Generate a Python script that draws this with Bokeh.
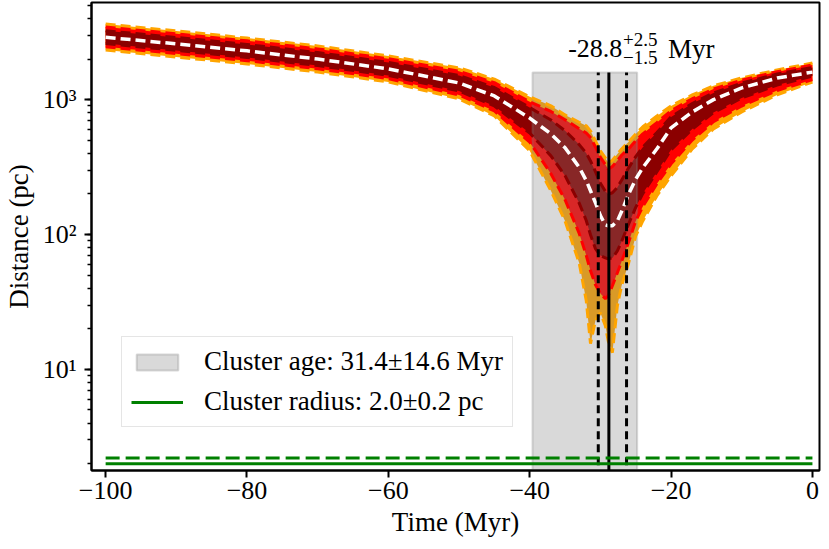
from bokeh.plotting import figure
from bokeh.models import (Range1d, Label, Legend, LegendItem, CustomJSTickFormatter,
                          FixedTicker)
from bokeh.embed import file_html
from bokeh.resources import INLINE

# ---------------- data ----------------
t = [-100, -90, -80, -70, -60, -50, -45, -40, -37, -35, -33, -32, -31.4, -30.7, -30,
     -29.3, -28.9, -28.3, -27.6, -27, -26, -25, -24, -22, -20, -17, -14, -10, -5, 0]
median = [2900, 2590, 2300, 2000, 1690, 1330, 1065, 730, 557, 440, 315, 251, 211, 172, 138,
          118, 116, 116, 126, 148, 200, 257, 313, 432, 618, 810, 1000, 1222, 1445, 1600]
outer_hi = [3640, 3230, 2860, 2500, 2110, 1720, 1420, 1050, 900, 770, 680, 640, 586, 495, 417,
            370, 340, 355, 395, 430, 488, 557, 630, 757, 898, 1085, 1265, 1450, 1660, 1870]
outer_lo = [2335, 2070, 1837, 1603, 1352, 1012, 757, 417, 211, 126, 61.6, 32.3, 15.5, 23, 26.3,
            21.1, 16.3, 13.3, 29.6, 41.7, 61.6, 97.7, 126, 194, 272, 431, 607, 811, 1084, 1352]
mid_hi = [3451, 3076, 2729, 2377, 2010, 1622, 1336, 966, 817, 710, 609, 566, 524, 446, 373,
          330, 305, 319, 353, 387, 433, 496, 558, 676, 828, 1016, 1199, 1394, 1610, 1807]
mid_lo = [2466, 2193, 1946, 1693, 1432, 1084, 824, 484, 282, 181, 102, 70, 53.8, 42.4, 36.5,
          33.4, 35.2, 41.7, 52, 63, 88, 126, 161, 238, 334, 502, 687, 897, 1168, 1406]
inner_hi = [3243, 2890, 2565, 2232, 1888, 1510, 1230, 873, 707, 588, 464, 401, 351, 292, 240,
            209, 199, 204, 223, 253, 312, 378, 444, 571, 745, 935, 1122, 1327, 1549, 1730]
inner_lo = [2605, 2317, 2055, 1789, 1513, 1159, 898, 565, 383, 273, 171, 127, 99.6, 78.5, 69.8,
            67.1, 66, 67.1, 75.5, 88.8, 120, 159, 201, 292, 425, 605, 802, 1028, 1282, 1496]

t_best = -28.8
t_err_minus = 1.5
t_err_plus = 2.5
age_window = [-39.6, -24.8]
window_top = 1590
radius = 2.0
radius_err = 0.2
x_ticks = [-100, -80, -60, -40, -20, 0]

FONT = "Liberation Serif"
bands = [(outer_lo, outer_hi, "#FFA500"), (mid_lo, mid_hi, "#FF0000"),
         (inner_lo, inner_hi, "#8B0000")]

p = figure(width=821, height=541, x_range=Range1d(-102, 1.0), y_range=Range1d(1.78, 5250),
           y_axis_type="log", output_backend="svg", toolbar_location=None,
           min_border_left=88, min_border_right=2, min_border_top=2, min_border_bottom=71)
p.grid.visible = False
p.outline_line_color = "black"
p.outline_line_width = 2

# band fills
for lo, hi, col in bands:
    p.varea(x=t, y1=lo, y2=hi, fill_color=col)

# cluster age window (drawn over the fills)
age_r = p.quad(left=[age_window[0]], right=[age_window[1]], bottom=[1.0], top=[window_top],
               fill_color="#808080", fill_alpha=0.3, line_color="#808080", line_alpha=0.3,
               line_width=2)

# dashed band edges
for lo, hi, col in bands:
    p.line(t, lo, line_color=col, line_width=3, line_dash="10 5")
    p.line(t, hi, line_color=col, line_width=3, line_dash="10 5")

p.line(t, median, line_color="white", line_width=3.5, line_dash="10 5")

# closest approach lines
p.segment(x0=[t_best], y0=[1.0], x1=[t_best], y1=[window_top], line_color="black", line_width=3)
p.segment(x0=[t_best - t_err_minus, t_best + t_err_plus], y0=[1.0, 1.0],
          x1=[t_best - t_err_minus, t_best + t_err_plus], y1=[window_top, window_top],
          line_color="black", line_width=3, line_dash="8 5")

# cluster radius
rad_r = p.line([t[0], t[-1]], [radius, radius], line_color="#008000", line_width=3)
p.line([t[0], t[-1]], [radius + radius_err, radius + radius_err], line_color="#008000",
       line_width=3, line_dash="14 6")

# annotation
p.add_layout(Label(x=-26.9, y=2375, text="-28.8", text_font=FONT, text_font_size="26px",
                   text_align="right", text_baseline="alphabetic", text_color="black"))
p.add_layout(Label(x=-26.8, y=2815, text="+2.5", text_font=FONT, text_font_size="19px",
                   text_align="left", text_baseline="alphabetic", text_color="black"))
p.add_layout(Label(x=-26.8, y=2047, text="\u22121.5", text_font=FONT, text_font_size="19px",
                   text_align="left", text_baseline="alphabetic", text_color="black"))
p.add_layout(Label(x=-20.44, y=2375, text="Myr", text_font=FONT, text_font_size="27px",
                   text_align="left", text_baseline="alphabetic", text_color="black"))

# legend
legend = Legend(items=[LegendItem(label="Cluster age: 31.4\u00b114.6 Myr", renderers=[age_r]),
                       LegendItem(label="Cluster radius: 2.0\u00b10.2 pc", renderers=[rad_r])],
                location=(30, 43), glyph_width=52, glyph_height=20, label_height=30,
                label_standoff=21, spacing=9, padding=9, margin=0,
                border_line_color="#cccccc", border_line_width=1.5,
                background_fill_alpha=0.8, label_text_font_size="27px",
                label_text_font=FONT, label_text_color="black")
p.add_layout(legend)

# axes
p.xaxis.ticker = FixedTicker(ticks=x_ticks, minor_ticks=[])
p.xaxis.formatter = CustomJSTickFormatter(
    code="return tick < 0 ? '\u2212' + Math.abs(tick) : String(tick);")
p.yaxis.formatter = CustomJSTickFormatter(code="""
const sup = {'0':'\u2070','1':'\u00b9','2':'\u00b2','3':'\u00b3','4':'\u2074','-':'\u207b'};
const e = Math.round(Math.log10(tick));
return '10' + String(e).split('').map(c => sup[c]).join('');
""")
for ax in (p.xaxis, p.yaxis):
    ax.axis_line_width = 2
    ax.axis_line_color = "black"
    ax.major_tick_out = 7
    ax.major_tick_in = 0
    ax.major_tick_line_width = 2
    ax.minor_tick_in = 0
    ax.minor_tick_line_width = 1.5
    ax.major_label_text_font = FONT
    ax.major_label_text_font_size = "26px"
    ax.major_label_text_color = "black"
    ax.axis_label_text_font = FONT
    ax.axis_label_text_font_size = "27px"
    ax.axis_label_text_font_style = "normal"
    ax.axis_label_text_color = "black"
p.xaxis.minor_tick_out = 0
p.yaxis.minor_tick_out = 4
p.xaxis.major_label_standoff = 4
p.yaxis.major_label_standoff = 8
p.xaxis.axis_label_standoff = 5
p.yaxis.axis_label_standoff = 6
p.xaxis.axis_label = "Time (Myr)"
p.yaxis.axis_label = "Distance (pc)"

open("out.html", "w").write(file_html(p, INLINE))
